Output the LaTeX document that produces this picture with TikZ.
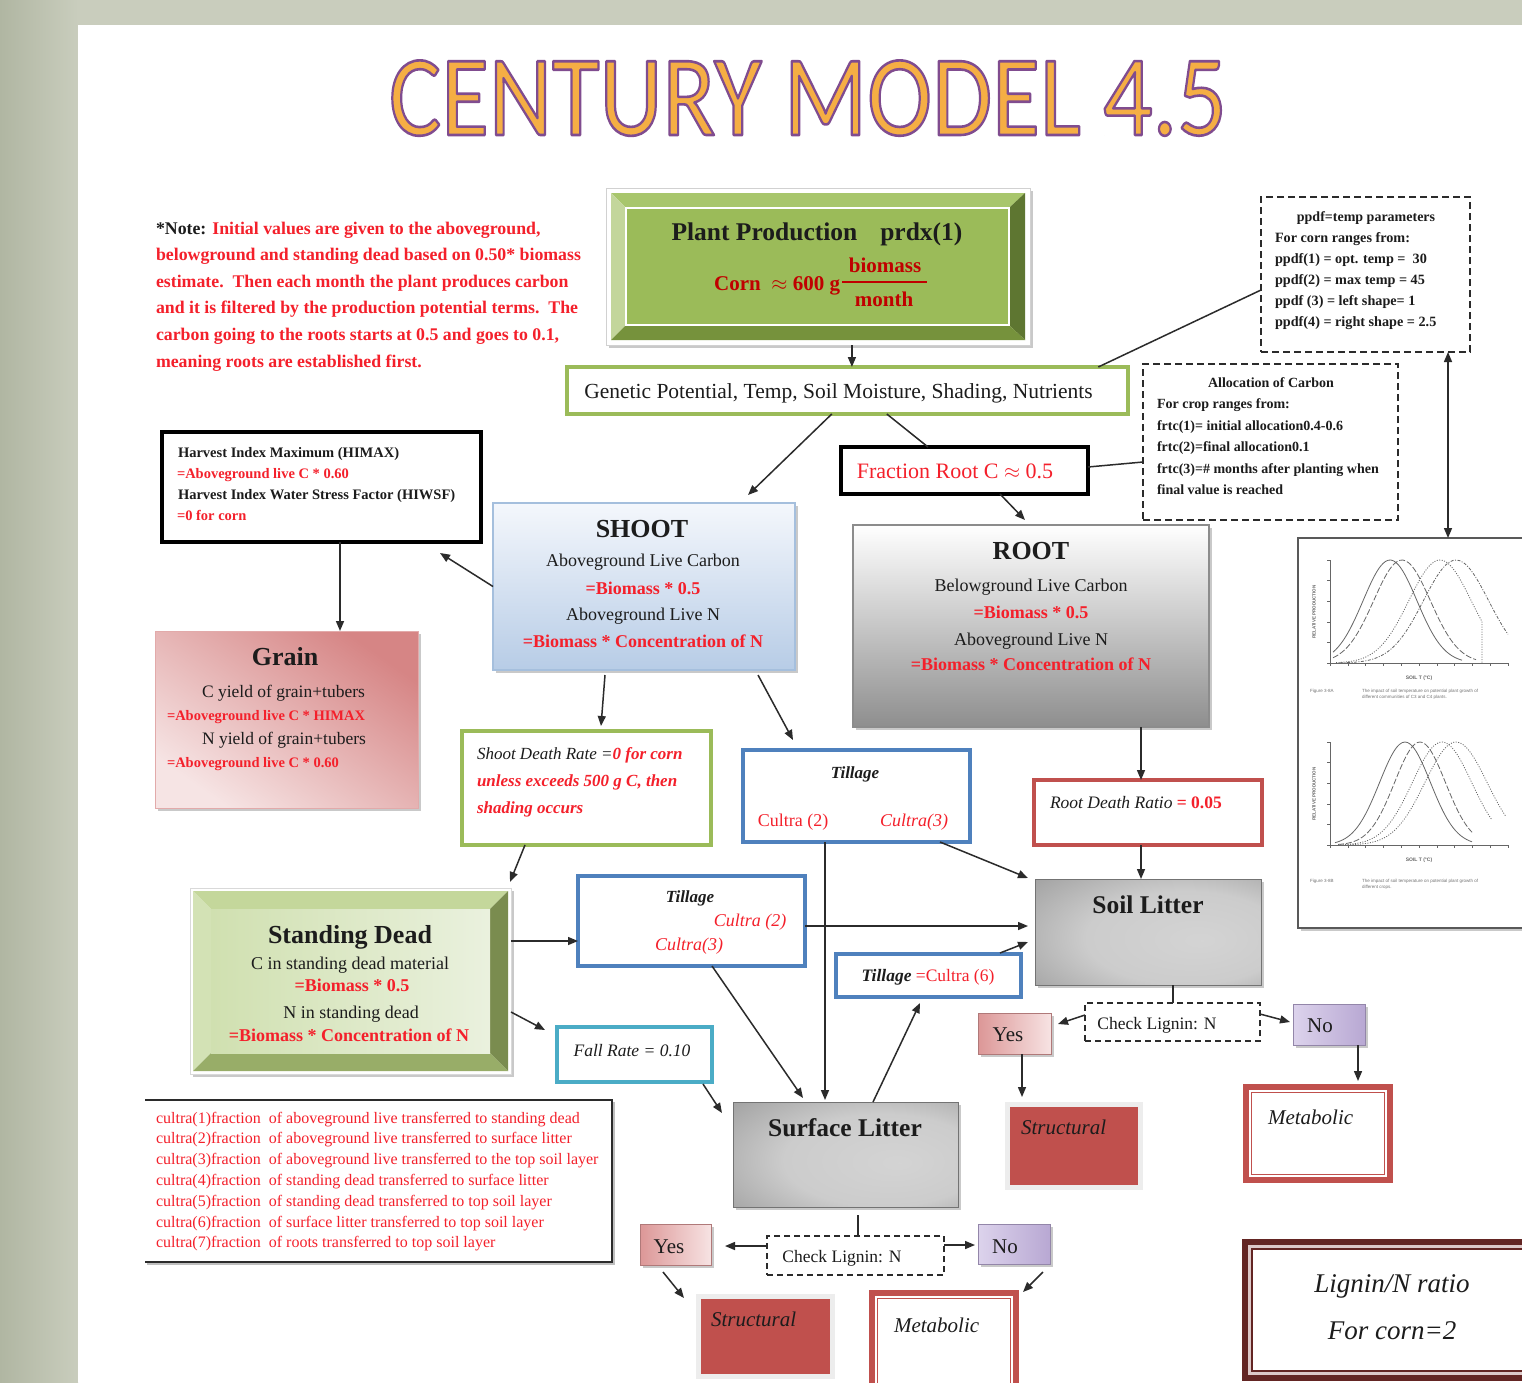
\documentclass[tikz,border=0pt]{standalone}
\usepackage{fontspec}
\setmainfont{Liberation Serif}
\newfontfamily\titlefont{Carlito}
\newfontfamily\figfont{Liberation Sans}
\usetikzlibrary{calc,arrows.meta,shadows}

\definecolor{bgsage}{HTML}{C9CDBD}
\definecolor{bgsage2}{HTML}{B0B6A2}
\definecolor{rd}{HTML}{F4202B}
\definecolor{drd}{HTML}{C00000}
\definecolor{ink}{HTML}{1C1C1C}
\definecolor{lk}{HTML}{2B2B2B}
\definecolor{grn}{HTML}{9BBB59}
\definecolor{blu}{HTML}{4F81BD}
\definecolor{aqua}{HTML}{4BACC6}
\definecolor{brk}{HTML}{C0504D}
\definecolor{maroon}{HTML}{632523}
\definecolor{tor}{HTML}{F5AE44}
\definecolor{ppT}{HTML}{A8C66C}
\definecolor{ppL}{HTML}{C3D69B}
\definecolor{ppR}{HTML}{5E7631}
\definecolor{ppB}{HTML}{76923C}
\definecolor{sdT}{HTML}{C4D79B}
\definecolor{sdL}{HTML}{D3E2B5}
\definecolor{sdR}{HTML}{7A8C4F}
\definecolor{sdB}{HTML}{98AD68}
\definecolor{sdF1}{HTML}{D0E0B0}
\definecolor{sdF2}{HTML}{EAF1DE}
\definecolor{shT}{HTML}{F4F7FC}
\definecolor{shB}{HTML}{B7CCE6}
\definecolor{shD}{HTML}{A5BFDD}
\definecolor{rtB}{HTML}{8E8E8E}
\definecolor{grT}{HTML}{D68585}
\definecolor{grB}{HTML}{F6E4E4}
\definecolor{yesL}{HTML}{DC9797}
\definecolor{yesR}{HTML}{F7E3E3}
\definecolor{noL}{HTML}{DCD3EC}
\definecolor{noR}{HTML}{B8A8D3}
\definecolor{ligGap}{HTML}{DCC8C8}

\newcommand\fs[2]{\fontsize{#1}{#2}\selectfont}
\newcommand\outlinetitle[1]{\special{pdf:literal direct 2 Tr 2.6 w 1 j 0.50 0.30 0.56 RG}#1\special{pdf:literal direct 0 Tr}}

\pgfdeclareradialshading{litter}{\pgfpoint{12bp}{-4bp}}{color(0bp)=(black!17); color(22bp)=(black!20); color(72bp)=(black!64)}

\begin{document}
\begin{tikzpicture}[x=1pt,y=-1pt,
  txt/.style={inner sep=0pt, outer sep=0pt, text=ink},
  con/.style={draw=lk, line width=1.5pt},
  arr/.style={con, -{Triangle[length=10pt,width=8pt]}},
  darr/.style={con, {Triangle[length=10pt,width=8pt]}-{Triangle[length=10pt,width=8pt]}},
  boxn/.style={rectangle, inner sep=0pt, outer sep=0pt},
  shad/.style={drop shadow={shadow xshift=2.5pt, shadow yshift=-2.5pt, opacity=0.35, fill=black!60}},
  dashbox/.style={boxn, draw=lk, line width=1.8pt, dash pattern=on 7pt off 4pt, fill=white},
  chkbox/.style={boxn, draw=lk, line width=1.5pt, dash pattern=on 6pt off 4pt, fill=white},
  thickbox/.style={boxn, draw=black, line width=4pt, fill=white},
  tillbox/.style={boxn, draw=blu, line width=3.2pt, fill=white},
  litterbox/.style={boxn, draw=black!55, line width=1pt, shading=litter, shad},
  yesbox/.style={boxn, draw=yesL!80!black, line width=0.8pt, left color=yesL, right color=yesR, shad},
  nobox/.style={boxn, draw=noR!80!black, line width=0.8pt, left color=noL, right color=noR, shad},
  strbox/.style={boxn, fill=brk, draw=black!7, line width=5pt, shad},
  metab/.style={boxn, draw=brk, line width=6pt, fill=white},
  figline/.style={draw=black!60, line width=0.8pt},
]
\useasboundingbox (0,0) rectangle (1522,1382);
\fill[bgsage] (0,0) rectangle (1522,1382);
\shade[left color=bgsage2, right color=bgsage] (0,0) rectangle (78,1382);
\fill[white] (78,25) rectangle (1522,1382);

% ---------- title ----------
\node[txt, anchor=base, text=tor] (title) at (808,135) {\titlefont\fs{115}{115}\scalebox{0.85}[1]{\outlinetitle{CENTURY MODEL 4.5}}};

% ---------- note ----------
\foreach \ltx [count=\i] in {
  {\textcolor{ink}{*Note:} Initial values are given to the aboveground,},
  {belowground and standing dead based on 0.50* biomass},
  {estimate.\ \ Then each month the plant produces carbon},
  {and it is filtered by the production potential terms.\ \ The},
  {carbon going to the roots starts at 0.5 and goes to 0.1,},
  {meaning roots are established first.}}
  \node[txt, anchor=base west, text=rd] (note\i) at (156,{207.5+26.6*\i}) {\fs{17.8}{20}\bfseries \ltx};

% ---------- plant production ----------
\node[boxn, draw=black!18, line width=1pt, fill=white, minimum width=424pt, minimum height=157pt, shad] (pp) at (818,266.5) {};
\fill[ppT] (611,193) -- (1025,193) -- (1009,208) -- (626,208) -- cycle;
\fill[ppL] (611,193) -- (626,208) -- (626,325) -- (611,340) -- cycle;
\fill[ppR] (1025,193) -- (1025,340) -- (1009,325) -- (1009,208) -- cycle;
\fill[ppB] (611,340) -- (1025,340) -- (1009,325) -- (626,325) -- cycle;
\node[boxn, fill=grn, draw=white, line width=2pt, minimum width=383pt, minimum height=117pt] (ppface) at (817.5,266.5) {};
\node[txt, anchor=base] (pptitle) at (817,240) {\fs{25.5}{30}\bfseries Plant Production\hspace{0.9em}prdx(1)};
\node[txt, anchor=base east, text=drd] (ppcorn) at (840,290) {\fs{21}{25}\bfseries Corn\hspace{0.5em}$\approx$ 600 g};
\node[txt, anchor=base, text=drd] (ppbio) at (885,272) {\fs{21}{25}\bfseries biomass};
\node[txt, anchor=base, text=drd] (ppmon) at (884,306) {\fs{21}{25}\bfseries month};
\draw[drd, line width=1.6pt] (842,282) -- (927,282);

% ---------- genetic potential ----------
\node[boxn, draw=grn, line width=4pt, fill=white, minimum width=561pt, minimum height=47pt] (gen) at (847.5,390.5) {};
\node[txt, anchor=base] (gentxt) at (838.5,398) {\fs{21.5}{25}Genetic Potential, Temp, Soil Moisture, Shading, Nutrients};

% ---------- ppdf ----------
\node[dashbox, minimum width=209pt, minimum height=155pt] (ppdf) at (1365.5,274.5) {};
\node[txt, anchor=base] (ppdf0) at (1366,221) {\fs{14}{17}\bfseries ppdf=temp parameters};
\foreach \ltx [count=\i] in {{For corn ranges from:},{ppdf(1) = opt. temp =\ \ 30},{ppdf(2) = max temp = 45},{ppdf (3) = left shape= 1},{ppdf(4) = right shape = 2.5}}
  \node[txt, anchor=base west] (ppdf\i) at (1275,{221+21*\i}) {\fs{14.2}{17}\bfseries \ltx};

% ---------- allocation ----------
\node[dashbox, minimum width=255pt, minimum height=156pt] (alloc) at (1270.5,442) {};
\node[txt, anchor=base] (alloc0) at (1271,387) {\fs{14}{17}\bfseries Allocation of Carbon};
\foreach \ltx [count=\i] in {{For crop ranges from:},{frtc(1)= initial allocation0.4-0.6},{frtc(2)=final allocation0.1},{frtc(3)=\# months after planting when},{final value is reached}}
  \node[txt, anchor=base west] (alloc\i) at (1157,{387+21.5*\i}) {\fs{14}{17}\bfseries \ltx};

% ---------- fraction root ----------
\node[thickbox, minimum width=247pt, minimum height=47pt] (frac) at (964.5,470.5) {};
\node[txt, anchor=base, text=rd] (fractxt) at (955,478) {\fs{22}{26}Fraction Root C $\approx$ 0.5};

% ---------- harvest ----------
\node[thickbox, minimum width=319pt, minimum height=110pt] (harv) at (321.5,487) {};
\node[txt, anchor=base west] (harv1) at (178,457) {\fs{14.5}{17}\bfseries Harvest Index Maximum (HIMAX)};
\node[txt, anchor=base west, text=rd] (harv2) at (177,478) {\fs{14.5}{17}\bfseries =Aboveground live C * 0.60};
\node[txt, anchor=base west] (harv3) at (178,499) {\fs{14.5}{17}\bfseries Harvest Index Water Stress Factor (HIWSF)};
\node[txt, anchor=base west, text=rd] (harv4) at (177,520) {\fs{14.5}{17}\bfseries =0 for corn};

% ---------- shoot ----------
\node[boxn, draw=shD, line width=1.5pt, top color=shT, bottom color=shB, minimum width=302pt, minimum height=167pt, shad] (shoot) at (644,586.5) {};
\node[txt, anchor=base] (shoot0) at (642,537) {\fs{26}{30}\bfseries SHOOT};
\node[txt, anchor=base] (shoot1) at (643,566) {\fs{18}{21}Aboveground Live Carbon};
\node[txt, anchor=base, text=rd] (shoot2) at (643,594) {\fs{18}{21}\bfseries =Biomass * 0.5};
\node[txt, anchor=base] (shoot3) at (643,620) {\fs{18}{21}Aboveground Live N};
\node[txt, anchor=base, text=rd] (shoot4) at (643,647) {\fs{18}{21}\bfseries =Biomass * Concentration of N};

% ---------- root ----------
\node[boxn, draw=black!45, line width=1.2pt, top color=white, bottom color=rtB, minimum width=356pt, minimum height=202pt, shad] (root) at (1031,626) {};
\node[txt, anchor=base] (root0) at (1031,559) {\fs{26}{30}\bfseries ROOT};
\node[txt, anchor=base] (root1) at (1031,591) {\fs{18}{21}Belowground Live Carbon};
\node[txt, anchor=base, text=rd] (root2) at (1031,618) {\fs{18}{21}\bfseries =Biomass * 0.5};
\node[txt, anchor=base] (root3) at (1031,645) {\fs{18}{21}Aboveground Live N};
\node[txt, anchor=base, text=rd] (root4) at (1031,670) {\fs{18}{21}\bfseries =Biomass * Concentration of N};

% ---------- graph panel ----------
\node[boxn, draw=black!65, line width=2pt, fill=white, minimum width=250pt, minimum height=390pt, shad] (graph) at (1423,733) {};
% plot A
\draw[figline] (1330,560) -- (1330,663) -- (1508,663);
\foreach \q in {0,...,10} \draw[figline, line width=0.6pt] ({1330+17.8*\q},663) -- ({1330+17.8*\q},666);
\foreach \q in {0,...,5} \draw[figline, line width=0.6pt] (1330,{663-20.6*\q}) -- (1327,{663-20.6*\q});
\draw[figline] plot[smooth, domain=1333:1462, samples=50] (\x,{663-103*exp(-((\x-1390)/38)^2)});
\draw[figline, dash pattern=on 6pt off 2pt] plot[smooth, domain=1333:1476, samples=50] (\x,{663-103*exp(-((\x-1402)/40)^2)});
\draw[figline, dash pattern=on 1pt off 1.5pt] plot[smooth, domain=1336:1482, samples=50] (\x,{663-103*exp(-((\x-1440)/44)^2)}) -- (1482,663);
\draw[figline, dash pattern=on 3pt off 1.5pt on 1pt off 1.5pt] plot[smooth, domain=1340:1508, samples=50] (\x,{663-103*exp(-((\x-1456)/46)^2)});
\node[txt, rotate=90, text=black!60] (gAy) at (1314,612) {\figfont\bfseries\fs{4.5}{5}RELATIVE PRODUCTION};
\node[txt, text=black!60] (gAx) at (1419,678) {\figfont\bfseries\fs{5}{6}SOIL T (\textdegree C)};
\node[txt, anchor=base west, text=black!55] (gAc1) at (1310,692) {\figfont\fs{4.5}{5}Figure 3-8A};
\node[txt, anchor=base west, text=black!55] (gAc2) at (1362,692) {\figfont\fs{4.5}{5}The impact of soil temperature on potential plant growth of};
\node[txt, anchor=base west, text=black!55] (gAc3) at (1362,698) {\figfont\fs{4.5}{5}different communities of C3 and C4 plants.};
% plot B
\draw[figline] (1330,742) -- (1330,845) -- (1508,845);
\foreach \q in {0,...,10} \draw[figline, line width=0.6pt] ({1330+17.8*\q},845) -- ({1330+17.8*\q},848);
\foreach \q in {0,...,5} \draw[figline, line width=0.6pt] (1330,{845-20.6*\q}) -- (1327,{845-20.6*\q});
\draw[figline] plot[smooth, domain=1335:1472, samples=50] (\x,{845-103*exp(-((\x-1405)/36)^2)});
\draw[figline, dash pattern=on 6pt off 2pt] plot[smooth, domain=1338:1472, samples=50] (\x,{845-103*exp(-((\x-1420)/36)^2)});
\draw[figline, dash pattern=on 1pt off 1.5pt] plot[smooth, domain=1340:1492, samples=50] (\x,{845-103*exp(-((\x-1442)/42)^2)});
\draw[figline, dash pattern=on 1pt off 1.5pt] plot[smooth, domain=1345:1506, samples=50] (\x,{845-103*exp(-((\x-1456)/44)^2)});
\node[txt, rotate=90, text=black!60] (gBy) at (1314,794) {\figfont\bfseries\fs{4.5}{5}RELATIVE PRODUCTION};
\node[txt, text=black!60] (gBx) at (1419,860) {\figfont\bfseries\fs{5}{6}SOIL T (\textdegree C)};
\node[txt, anchor=base west, text=black!55] (gBc1) at (1310,882) {\figfont\fs{4.5}{5}Figure 3-8B};
\node[txt, anchor=base west, text=black!55] (gBc2) at (1362,882) {\figfont\fs{4.5}{5}The impact of soil temperature on potential plant growth of};
\node[txt, anchor=base west, text=black!55] (gBc3) at (1362,888) {\figfont\fs{4.5}{5}different crops.};

% ---------- grain ----------
\node[boxn, draw=grT!70, line width=1pt, top color=grT, bottom color=grB, shading angle=-35, minimum width=263pt, minimum height=177pt, shad] (grain) at (286.5,719.5) {};
\node[txt, anchor=base] (grain0) at (285,665) {\fs{26}{30}\bfseries Grain};
\node[txt, anchor=base west] (grain1) at (202,697) {\fs{17.5}{21}C yield of grain+tubers};
\node[txt, anchor=base west, text=rd] (grain2) at (167,720) {\fs{14.5}{17}\bfseries =Aboveground live C * HIMAX};
\node[txt, anchor=base west] (grain3) at (202,744) {\fs{17.5}{21}N yield of grain+tubers};
\node[txt, anchor=base west, text=rd] (grain4) at (167,767) {\fs{14.5}{17}\bfseries =Aboveground live C * 0.60};

% ---------- shoot death rate ----------
\node[boxn, draw=grn, line width=3.2pt, fill=white, minimum width=249pt, minimum height=114pt] (sdr) at (586.5,788) {};
\node[txt, anchor=base west] (sdr1) at (477,759) {\fs{17}{20}\itshape Shoot Death Rate =\textcolor{rd}{\bfseries 0 for corn}};
\node[txt, anchor=base west, text=rd] (sdr2) at (477,786) {\fs{17}{20}\bfseries\itshape unless exceeds 500 g C, then};
\node[txt, anchor=base west, text=rd] (sdr3) at (477,813) {\fs{17}{20}\bfseries\itshape shading occurs};

% ---------- tillage 1 ----------
\node[tillbox, minimum width=227pt, minimum height=92pt] (till1) at (856.5,796) {};
\node[txt, anchor=base] (till1a) at (855,778) {\fs{17}{20}\bfseries\itshape Tillage};
\node[txt, anchor=base, text=rd] (till1b) at (793,826) {\fs{18}{21}Cultra (2)};
\node[txt, anchor=base, text=rd] (till1c) at (914,826) {\fs{18}{21}\itshape Cultra(3)};

% ---------- root death ratio ----------
\node[boxn, draw=brk, line width=3.2pt, fill=white, minimum width=228pt, minimum height=65pt] (rdr) at (1148,812.5) {};
\node[txt, anchor=base west] (rdrtxt) at (1050,808) {\fs{17.5}{21}\itshape Root Death Ratio\textcolor{rd}{\upshape\bfseries\ = 0.05}};

% ---------- soil litter ----------
\node[litterbox, minimum width=226pt, minimum height=106pt] (soil) at (1148,932) {};
\node[txt, anchor=base] (soiltxt) at (1148,913) {\fs{25.5}{30}\bfseries Soil Litter};

% ---------- standing dead ----------
\node[boxn, draw=black!15, line width=1pt, fill=white, minimum width=321pt, minimum height=186pt, shad] (sd) at (350.5,981) {};
\fill[sdT] (193,891) -- (508,891) -- (490,909) -- (211,909) -- cycle;
\fill[sdL] (193,891) -- (211,909) -- (211,1053) -- (193,1071) -- cycle;
\fill[sdR] (508,891) -- (508,1071) -- (490,1053) -- (490,909) -- cycle;
\fill[sdB] (193,1071) -- (508,1071) -- (490,1053) -- (211,1053) -- cycle;
\node[boxn, left color=sdF1, right color=sdF2, minimum width=279pt, minimum height=144pt] (sdface) at (350.5,981) {};
\node[txt, anchor=base] (sd0) at (350,943) {\fs{26}{30}\bfseries Standing Dead};
\node[txt, anchor=base] (sd1) at (350,969) {\fs{18}{21}C in standing dead material};
\node[txt, anchor=base, text=rd] (sd2) at (352,991) {\fs{18}{21}\bfseries =Biomass * 0.5};
\node[txt, anchor=base] (sd3) at (351,1018) {\fs{18}{21}N in standing dead};
\node[txt, anchor=base, text=rd] (sd4) at (349,1041) {\fs{18}{21}\bfseries =Biomass * Concentration of N};

% ---------- tillage 2 ----------
\node[tillbox, minimum width=227pt, minimum height=90pt] (till2) at (691.5,921) {};
\node[txt, anchor=base] (till2a) at (690,902) {\fs{17}{20}\bfseries\itshape Tillage};
\node[txt, anchor=base, text=rd] (till2b) at (750,926) {\fs{18}{21}\itshape Cultra (2)};
\node[txt, anchor=base, text=rd] (till2c) at (689,950) {\fs{18}{21}\itshape Cultra(3)};

% ---------- fall rate ----------
\node[boxn, draw=aqua, line width=3.2pt, fill=white, minimum width=155pt, minimum height=55pt] (fall) at (634.5,1054.5) {};
\node[txt, anchor=base] (falltxt) at (632,1056) {\fs{17.5}{21}\itshape Fall Rate = 0.10};

% ---------- tillage 6 ----------
\node[tillbox, minimum width=185pt, minimum height=43pt] (till6) at (928.5,975.5) {};
\node[txt, anchor=base] (till6txt) at (928,981) {\fs{17.5}{21}\textbf{\textit{Tillage}} \textcolor{rd}{=Cultra (6)}};

% ---------- surface litter ----------
\node[litterbox, minimum width=225pt, minimum height=105pt] (surf) at (845.5,1154.5) {};
\node[txt, anchor=base] (surftxt) at (845,1136) {\fs{25.5}{30}\bfseries Surface Litter};

% ---------- soil litter lignin check ----------
\node[chkbox, minimum width=175pt, minimum height=38pt] (chk1) at (1172.5,1022) {};
\node[txt, anchor=base] (chk1txt) at (1157,1029) {\fs{17.5}{21}Check Lignin: N};
\node[yesbox, minimum width=73pt, minimum height=41pt] (yes1) at (1014.5,1033.5) {};
\node[txt, anchor=base] (yes1txt) at (1008,1041) {\fs{21}{25}Yes};
\node[nobox, minimum width=72pt, minimum height=41pt] (no1) at (1329,1024.5) {};
\node[txt, anchor=base] (no1txt) at (1320,1032) {\fs{21}{25}No};
\node[strbox, minimum width=133pt, minimum height=83pt] (str1) at (1073.5,1145.5) {};
\node[txt, anchor=base west] (str1txt) at (1021,1134) {\fs{21}{25}\itshape Structural};
\node[metab, minimum width=144pt, minimum height=93pt] (met1) at (1318,1133.5) {};
\draw[brk, line width=1.5pt] ([shift={(5.5,5.5)}]met1.north west) rectangle ([shift={(-5.5,-5.5)}]met1.south east);
\node[txt, anchor=base west] (met1txt) at (1268,1124) {\fs{21}{25}\itshape Metabolic};

% ---------- surface litter lignin check ----------
\node[chkbox, minimum width=177pt, minimum height=39pt] (chk2) at (855.5,1255.5) {};
\node[txt, anchor=base] (chk2txt) at (842,1262) {\fs{17.5}{21}Check Lignin: N};
\node[yesbox, minimum width=71pt, minimum height=41pt] (yes2) at (675.5,1244.5) {};
\node[txt, anchor=base] (yes2txt) at (669,1253) {\fs{21}{25}Yes};
\node[nobox, minimum width=72pt, minimum height=40pt] (no2) at (1014,1244) {};
\node[txt, anchor=base] (no2txt) at (1005,1253) {\fs{21}{25}No};
\node[strbox, minimum width=134pt, minimum height=80pt] (str2) at (765,1336) {};
\node[txt, anchor=base west] (str2txt) at (711,1326) {\fs{21}{25}\itshape Structural};
\node[metab, minimum width=144pt, minimum height=97pt] (met2) at (944,1341.5) {};
\draw[brk, line width=1.5pt] ([shift={(5.5,5.5)}]met2.north west) rectangle ([shift={(-5.5,-5.5)}]met2.south east);
\node[txt, anchor=base west] (met2txt) at (894,1332) {\fs{21}{25}\itshape Metabolic};

% ---------- cultra list ----------
\node[boxn, minimum width=467pt, minimum height=162pt] (cult) at (378.5,1181) {};
\draw[black!25, line width=2pt] ([shift={(2,2)}]cult.north east) -- ([shift={(2,2)}]cult.south east) -- ([shift={(2,2)}]cult.south west);
\draw[lk, line width=1.5pt] (cult.north west) -- (cult.north east) -- (cult.south east) -- (cult.south west);
\foreach \ltx [count=\i] in {
  {cultra(1)fraction\ \ of aboveground live transferred to standing dead},
  {cultra(2)fraction\ \ of aboveground live transferred to surface litter},
  {cultra(3)fraction\ \ of aboveground live transferred to the top soil layer},
  {cultra(4)fraction\ \ of standing dead transferred to surface litter},
  {cultra(5)fraction\ \ of standing dead transferred to top soil layer},
  {cultra(6)fraction\ \ of surface litter transferred to top soil layer},
  {cultra(7)fraction\ \ of roots transferred to top soil layer}}
  \node[txt, anchor=base west, text=rd] (cult\i) at (156,{1102.2+20.8*\i}) {\fs{16}{19}\ltx};

% ---------- lignin/N ----------
\node[boxn, draw=maroon, line width=6pt, fill=white, minimum width=300pt, minimum height=136pt] (lig) at (1395,1310) {};
\draw[ligGap, line width=3pt] ([shift={(4.5,4.5)}]lig.north west) rectangle ([shift={(-4.5,-4.5)}]lig.south east);
\draw[maroon, line width=2pt] ([shift={(7,7)}]lig.north west) rectangle ([shift={(-7,-7)}]lig.south east);
\node[txt, anchor=base] (lig1) at (1392,1292) {\fs{27}{32}\itshape Lignin/N ratio};
\node[txt, anchor=base] (lig2) at (1392,1339) {\fs{27}{32}\itshape For corn=2};

% ---------- connectors ----------
\draw[arr] ($(pp.south west)!0.58!(pp.south east)$) coordinate (c1) -- (c1 |- gen.north);
\draw[con] ($(gen.north west)!0.947!(gen.north east)$) -- ([yshift=-15.5pt]ppdf.west);
\draw[darr] ([xshift=82.5pt]ppdf.south) coordinate (c3) -- (c3 |- graph.north);
\draw[arr] ($(gen.south west)!0.472!(gen.south east)$) -- ([xshift=104pt,yshift=8pt]shoot.north);
\draw[con] ($(gen.south west)!0.570!(gen.south east)$) -- ([xshift=-36.5pt]frac.north);
\draw[arr] ([xshift=35.5pt]frac.south) -- ([xshift=-6pt,yshift=5pt]root.north);
\draw[con] ([yshift=3.5pt]frac.east) -- ([yshift=-20pt]alloc.west);
\draw[arr] (shoot.west) -- ([xshift=118.5pt,yshift=-11pt]harv.south);
\draw[arr] ([xshift=18.5pt]harv.south) coordinate (c9) -- (c9 |- grain.north);
\draw[arr] ([xshift=-39pt,yshift=-5pt]shoot.south) -- ([xshift=14.5pt,yshift=5pt]sdr.north);
\draw[arr] ([xshift=114pt,yshift=-5pt]shoot.south) -- ([xshift=-63.5pt,yshift=10pt]till1.north);
\draw[arr] ([xshift=110pt]root.south) coordinate (c12) -- (c12 |- rdr.north);
\draw[arr] ([xshift=-7pt]rdr.south) coordinate (c13) -- (c13 |- soil.north);
\draw[arr, shorten >=2pt] ([xshift=-31.5pt]till1.south) coordinate (c14) -- (c14 |- surf.north);
\draw[arr] ([xshift=83.5pt]till1.south) -- ([xshift=-7pt,yshift=1pt]soil.north west);
\draw[arr] ([xshift=-61.5pt]sdr.south) -- ([xshift=-1pt,yshift=6pt]sd.north east);
\draw[arr] ([yshift=40pt]sd.east) coordinate (c17) -- (c17 -| till2.west);
\draw[arr, shorten >=7pt] ([yshift=-5pt]till2.east) coordinate (c18) -- (c18 -| soil.west);
\draw[arr] ([xshift=20.5pt]till2.south) -- ([xshift=-42.5pt,yshift=4pt]surf.north);
\draw[arr] ([yshift=-31pt]sd.east) -- ([xshift=-12pt,yshift=24.5pt]fall.west);
\draw[arr] ([xshift=-9pt,yshift=-2pt]fall.south east) -- ([xshift=-11pt,yshift=-11pt]surf.north west);
\draw[arr] ([xshift=27.5pt]surf.north) -- ([xshift=-8.5pt,yshift=-6pt]till6.south);
\draw[arr] ([xshift=-21pt,yshift=1pt]till6.north east) -- ([xshift=-7pt,yshift=-10pt]soil.west);
\draw[con] ([xshift=25pt]soil.south) coordinate (c24) -- (c24 |- chk1.north);
\draw[arr] ([yshift=7pt]chk1.west) -- ([xshift=7pt,yshift=9.5pt]yes1.east);
\draw[arr] ([yshift=8pt]chk1.east) -- ([xshift=-3pt,yshift=2.5pt]no1.west);
\draw[arr, shorten >=7pt] ([xshift=7.5pt]yes1.south) coordinate (c27) -- (c27 |- str1.north);
\draw[arr, shorten >=6pt] ([xshift=29pt]no1.south) coordinate (c28) -- (c28 |- met1.north);
\draw[con] ([xshift=12.5pt,yshift=-8pt]surf.south) coordinate (c29) -- (c29 |- chk2.north);
\draw[arr, shorten >=14pt] ([yshift=9.5pt]chk2.west) coordinate (c30) -- (c30 -| yes2.east);
\draw[arr, shorten >=3pt] ([yshift=10.5pt]chk2.east) coordinate (c31) -- (c31 -| no2.west);
\draw[arr] ([xshift=-12.5pt,yshift=-7pt]yes2.south) -- ([xshift=-14pt,yshift=-2pt]str2.north west);
\draw[arr] ([xshift=29pt,yshift=-8pt]no2.south) -- ([xshift=7pt,yshift=1pt]met2.north east);
\end{tikzpicture}
\end{document}
